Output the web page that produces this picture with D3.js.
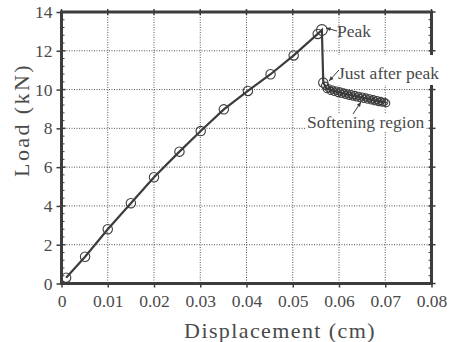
<!DOCTYPE html>
<html><head><meta charset="utf-8">
<script src="https://cdn.jsdelivr.net/npm/d3@7"></script>
<style>body{margin:0;background:#fff}svg{display:block}text{font-family:"Liberation Serif","DejaVu Serif",serif;fill:#4a4a4a}</style>
</head><body><svg id="c" width="449" height="342"></svg>
<script>
// Data
const preDisp = [0.0010,0.0051,0.0100,0.0150,0.0200,0.0255,0.0301,0.0351,0.0403,0.0452,0.0502,0.0554];
const preLoad = [0.30,1.38,2.80,4.14,5.48,6.80,7.86,8.98,9.93,10.79,11.76,12.87];
const peakDisp = [0.0563];
const peakLoad = [13.07];
const afterDisp = [0.0566];
const afterLoad = [10.36];
const softDisp = [0.0570,0.0574,0.0578,0.0582,0.0586,0.0590,0.0594,0.0598,0.0602,0.0606,0.0610,0.0614,0.0618,0.0622,0.0626,0.0630,0.0634,0.0638,0.0642,0.0646,0.0650,0.0654,0.0658,0.0662,0.0666,0.0670,0.0674,0.0678,0.0682,0.0686,0.0690,0.0694,0.0698,0.0702];
const softLoad = [10.20,10.02,10.06,9.93,10.00,9.88,9.95,9.82,9.90,9.78,9.85,9.73,9.80,9.68,9.76,9.64,9.72,9.60,9.68,9.56,9.64,9.52,9.59,9.48,9.55,9.44,9.50,9.40,9.46,9.36,9.41,9.33,9.37,9.30];
const xTicks = [0,0.01,0.02,0.03,0.04,0.05,0.06,0.07,0.08];
const xTickLabels = ["0","0.01","0.02","0.03","0.04","0.05","0.06","0.07","0.08"];
const yTicks = [0,2,4,6,8,10,12,14];
const xTitle = "Displacement (cm)";
const yTitle = "Load (kN)";
const annotations = ["Peak","Just after peak","Softening region"];

const svg = d3.select("#c");
const L=61.5,R=431.5,T=12,B=283.5;
const x = d3.scaleLinear().domain([0,0.08]).range([L,R]);
const y = d3.scaleLinear().domain([0,14]).range([B,T]);
const ink="#3c3c3c";

// grid
const g = svg.append("g");
g.selectAll(".gx").data(xTicks.slice(1,-1)).join("line")
 .attr("x1",d=>x(d)).attr("x2",d=>x(d)).attr("y1",T).attr("y2",B)
 .attr("stroke","#555").attr("stroke-width",1).attr("stroke-dasharray","1,1.5");
g.selectAll(".gy").data(yTicks.slice(1,-1)).join("line")
 .attr("y1",d=>y(d)).attr("y2",d=>y(d)).attr("x1",L).attr("x2",R)
 .attr("stroke","#555").attr("stroke-width",1).attr("stroke-dasharray","1,1.5");

// axes via d3 axis (ticks), then frame
const xAxis = svg.append("g").attr("transform",`translate(0,${B})`)
 .call(d3.axisBottom(x).tickValues(xTicks).tickFormat((d,i)=>xTickLabels[i]).tickSize(4).tickPadding(7));
xAxis.select(".domain").remove();
xAxis.selectAll("line").attr("stroke",ink).attr("stroke-width",1.5);
xAxis.selectAll("text").style("font-size","17.5px").attr("fill","#505050").style("font-family","Liberation Serif");

const yAxis = svg.append("g").attr("transform",`translate(${L},0)`)
 .call(d3.axisLeft(y).tickValues(yTicks).tickFormat(d3.format("d")).tickSize(5).tickPadding(4));
yAxis.select(".domain").remove();
yAxis.selectAll("line").attr("stroke",ink).attr("stroke-width",1.5);
yAxis.selectAll("text").style("font-size","17.5px").attr("fill","#505050").style("font-family","Liberation Serif");

// minor ticks on left and right axes
const minor = d3.range(0,14.01,0.4).filter(v=>Math.abs(v/2-Math.round(v/2))>0.01);
svg.append("g").selectAll("line").data(minor).join("line")
 .attr("x1",L).attr("x2",L+3).attr("y1",d=>y(d)).attr("y2",d=>y(d)).attr("stroke",ink).attr("stroke-width",1);
svg.append("g").selectAll("line").data(yTicks).join("line")
 .attr("x1",L).attr("x2",L+4).attr("y1",d=>y(d)).attr("y2",d=>y(d)).attr("stroke",ink).attr("stroke-width",1.5);
svg.append("g").selectAll("line").data(yTicks).join("line")
 .attr("x1",R-3).attr("x2",R+4).attr("y1",d=>y(d)).attr("y2",d=>y(d)).attr("stroke",ink).attr("stroke-width",1.5);
svg.append("g").selectAll("line").data(minor).join("line")
 .attr("x1",R-3).attr("x2",R).attr("y1",d=>y(d)).attr("y2",d=>y(d)).attr("stroke",ink).attr("stroke-width",1);
svg.append("g").selectAll("line").data(xTicks).join("line")
 .attr("x1",d=>x(d)).attr("x2",d=>x(d)).attr("y1",T-3).attr("y2",T+3).attr("stroke",ink).attr("stroke-width",1.5);

// frame
svg.append("rect").attr("x",L).attr("y",T).attr("width",R-L).attr("height",B-T)
 .attr("fill","none").attr("stroke",ink).attr("stroke-width",3);

// data line
const all = [];
preDisp.forEach((d,i)=>all.push([d,preLoad[i]]));
peakDisp.forEach((d,i)=>all.push([d,peakLoad[i]]));
afterDisp.forEach((d,i)=>all.push([d,afterLoad[i]]));
softDisp.forEach((d,i)=>all.push([d,softLoad[i]]));
svg.append("path").datum(all)
 .attr("d",d3.line().x(d=>x(d[0])).y(d=>y(d[1])))
 .attr("fill","none").attr("stroke",ink).attr("stroke-width",2.2);

const circ = (xs,ys,r)=>svg.append("g").selectAll("circle").data(xs.map((d,i)=>[d,ys[i]])).join("circle")
 .attr("cx",d=>x(d[0])).attr("cy",d=>y(d[1])).attr("r",r)
 .attr("fill","none").attr("stroke",ink).attr("stroke-width",1.1);
circ(preDisp,preLoad,4.7);
circ(peakDisp,peakLoad,5.4);
circ(afterDisp,afterLoad,4.7);
circ(softDisp,softLoad,3.6);

// annotations (white background patches cover the frame like the scan)
const ann = svg.append("g");
ann.append("rect").attr("x",337).attr("y",55).attr("width",104).attr("height",30).attr("fill","#fff");
ann.append("rect").attr("x",305).attr("y",113).attr("width",120).attr("height",19).attr("fill","#fff");
ann.append("text").attr("x",337).attr("y",37).style("font-size","17.5px").text(annotations[0]);
ann.append("text").attr("x",338).attr("y",79).style("font-size","17.5px").text(annotations[1]);
ann.append("text").attr("x",307).attr("y",128).style("font-size","17.5px").text(annotations[2]);
const arrow = (x1,y1,x2,y2)=>{
  ann.append("line").attr("x1",x1).attr("y1",y1).attr("x2",x2).attr("y2",y2).attr("stroke",ink).attr("stroke-width",1);
  const a=Math.atan2(y2-y1,x2-x1), s=5;
  const p=[[x2,y2],[x2-s*Math.cos(a-0.4),y2-s*Math.sin(a-0.4)],[x2-s*Math.cos(a+0.4),y2-s*Math.sin(a+0.4)]];
  ann.append("path").attr("d","M"+p.join("L")+"Z").attr("fill",ink);
};
arrow(337,31,326,28);
arrow(339,70,329,81);
arrow(353,114,361,102);

// titles
svg.append("text").attr("x",280).attr("y",338).attr("text-anchor","middle").style("font-size","22px").style("letter-spacing","1.4px").text(xTitle);
svg.append("text").attr("transform","translate(29,120) rotate(-90)").attr("text-anchor","middle").style("font-size","22px").style("letter-spacing","2.4px").text(yTitle);
</script></body></html>
